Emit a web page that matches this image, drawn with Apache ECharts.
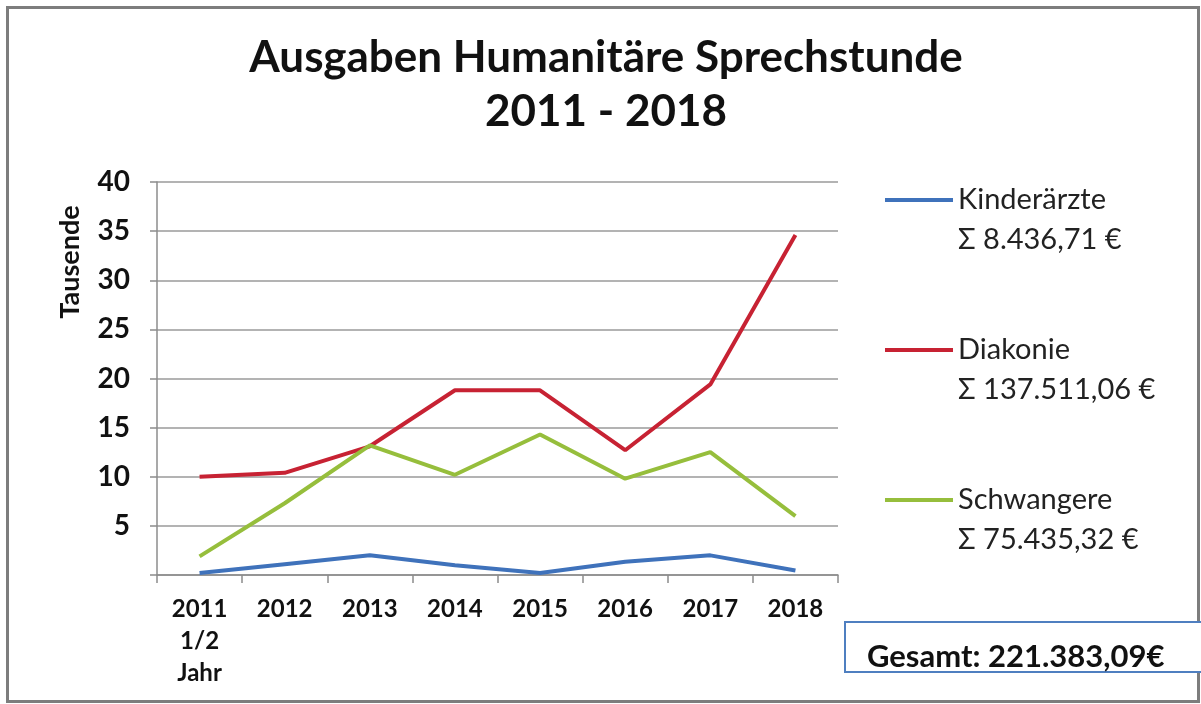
<!DOCTYPE html>
<html>
<head>
<meta charset="utf-8">
<script src="https://cdn.jsdelivr.net/npm/echarts@6/dist/echarts.min.js"></script>
<style>
html,body{margin:0;padding:0;background:#fff;}
#chart{width:1201px;height:704px;}
</style>
</head>
<body>
<div id="chart"></div>
<script>
// Data (thousands of euro)
const categories = ['2011\n1/2\nJahr', '2012', '2013', '2014', '2015', '2016', '2017', '2018'];
const kinderaerzte = [0.2, 1.1, 2.0, 1.0, 0.2, 1.35, 2.0, 0.45];
const diakonie = [10.0, 10.4, 13.1, 18.8, 18.8, 12.7, 19.4, 34.6];
const schwangere = [1.9, 7.3, 13.2, 10.2, 14.3, 9.8, 12.5, 6.0];
const seriesNames = ['Kinderärzte\nΣ 8.436,71 €', 'Diakonie\nΣ 137.511,06 €', 'Schwangere\nΣ 75.435,32 €'];
const yTicks = [0, 5, 10, 15, 20, 25, 30, 35, 40];
const titleText = 'Ausgaben Humanitäre Sprechstunde\n2011 - 2018';
const totalText = 'Gesamt: 221.383,09€';

const FONT = 'Lato';
const chart = echarts.init(document.getElementById('chart'), null, {renderer: 'canvas'});
const option = {
  animation: false,
  backgroundColor: '#fff',
  title: {
    text: titleText,
    left: 606,
    top: 31,
    textAlign: 'center',
    padding: 0,
    textStyle: {fontFamily: FONT, fontWeight: 'bold', fontSize: 44, lineHeight: 54, color: '#111'}
  },
  grid: {left: 157, right: 363, top: 182, bottom: 129},
  legend: {
    orient: 'vertical',
    left: 885,
    top: 140,
    padding: 0,
    icon: 'rect',
    itemWidth: 68,
    itemHeight: 4,
    itemGap: 30,
    selectedMode: false,
    formatter: function (name) {
      const parts = name.split('\n');
      return '{s| }\n{a|' + parts[0] + '}\n{a|' + parts[1] + '}';
    },
    textStyle: {
      fontFamily: FONT, fontSize: 29, lineHeight: 40, color: '#222',
      rich: {
        s: {fontFamily: FONT, fontSize: 29, lineHeight: 40},
        a: {fontFamily: FONT, fontSize: 29, lineHeight: 40, color: '#222'}
      }
    },
    data: seriesNames
  },
  xAxis: {
    type: 'category',
    data: categories,
    boundaryGap: true,
    axisLine: {lineStyle: {color: '#8c8c8c', width: 1.5}},
    axisTick: {show: true, length: 8, lineStyle: {color: '#8c8c8c', width: 1.5}},
    axisLabel: {fontFamily: FONT, fontWeight: 'bold', fontSize: 24, lineHeight: 32, color: '#111', margin: 18}
  },
  yAxis: {
    type: 'value',
    min: yTicks[0],
    max: yTicks[yTicks.length - 1],
    interval: 5,
    axisLine: {show: true, lineStyle: {color: '#8c8c8c', width: 1.5}},
    axisTick: {show: true, length: 7, lineStyle: {color: '#8c8c8c', width: 1.5}},
    splitLine: {show: true, lineStyle: {color: '#9a9a9a', width: 1.5}},
    axisLabel: {fontFamily: FONT, fontWeight: 'bold', fontSize: 28, color: '#111', margin: 27,
      formatter: v => (v === 0 ? '' : String(v))}
  },
  series: [
    {name: seriesNames[0], type: 'line', data: kinderaerzte, symbol: 'none', lineStyle: {width: 4, color: '#3f72bb'}, itemStyle: {color: '#3f72bb'}},
    {name: seriesNames[1], type: 'line', data: diakonie, symbol: 'none', lineStyle: {width: 4, color: '#c72233'}, itemStyle: {color: '#c72233'}},
    {name: seriesNames[2], type: 'line', data: schwangere, symbol: 'none', lineStyle: {width: 4, color: '#96be3c'}, itemStyle: {color: '#96be3c'}}
  ],
  graphic: [
    {type: 'rect', left: 5, top: 5, silent: true, z: -1,
      shape: {width: 1191, height: 694}, style: {fill: 'none', stroke: '#7d7d7d', lineWidth: 3}},
    {type: 'text', x: 70, y: 262, rotation: Math.PI / 2, silent: true,
      style: {text: 'Tausende', fontFamily: FONT, fontWeight: 'bold', fontSize: 27, fill: '#111', align: 'center', verticalAlign: 'middle'}},
    {type: 'rect', x: 845, y: 622, silent: true,
      shape: {width: 360, height: 50}, style: {fill: '#fff', stroke: '#4f7fc0', lineWidth: 2}},
    {type: 'text', x: 867, y: 657, silent: true,
      style: {text: totalText, fontFamily: FONT, fontWeight: 'bold', fontSize: 31, fill: '#111', align: 'left', verticalAlign: 'middle'}}
  ]
};
chart.setOption(option);
</script>
</body>
</html>
